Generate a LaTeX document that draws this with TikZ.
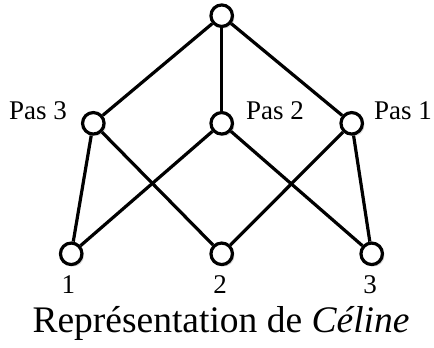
\documentclass[tikz,border=0pt]{standalone}
\usepackage{fontspec}
\setmainfont{Liberation Serif}
\usetikzlibrary{shadows}
\begin{document}
\begin{tikzpicture}[x=1pt,y=1pt,
  vtx/.style={circle,draw=black,fill=white,line width=3.2pt,minimum size=21.5pt,inner sep=0pt,
    drop shadow={shadow xshift=2pt,shadow yshift=-2pt,opacity=0.15,fill=black}},
  edge/.style={line width=3.2pt},
  lbl/.style={font=\fontsize{27}{30}\selectfont,inner sep=0pt,anchor=base}]
\useasboundingbox (0,0) rectangle (434,348);
\node[vtx] (top) at (221.7,332.3) {};
\node[vtx] (p3) at (93.3,224.7) {};
\node[vtx] (p2) at (221.7,224.7) {};
\node[vtx] (p1) at (351.7,224.7) {};
\node[vtx] (b1) at (71.2,94.2) {};
\node[vtx] (b2) at (221.7,94.2) {};
\node[vtx] (b3) at (371.7,94.2) {};
\draw[edge] (top) -- (p3);
\draw[edge] (top) -- (p2);
\draw[edge] (top) -- (p1);
\draw[edge] (p3) -- (b1);
\draw[edge] (p3) -- (b2);
\draw[edge] (p2) -- (b1);
\draw[edge] (p2) -- (b3);
\draw[edge] (p1) -- (b2);
\draw[edge] (p1) -- (b3);
\node[lbl] (l3) at (38,228) {Pas 3};
\node[lbl] (l2) at (275,228) {Pas 2};
\node[lbl] (l1) at (403,228) {Pas 1};
\node[lbl] (n1) at (68.3,54.7) {1};
\node[lbl] (n2) at (220,54.7) {2};
\node[lbl] (n3) at (370,54.7) {3};
\node[font=\fontsize{37.5}{42}\selectfont,inner sep=0pt,anchor=base] (cap) at (221,15) {Représentation de \textit{Céline}};
\end{tikzpicture}
\end{document}
